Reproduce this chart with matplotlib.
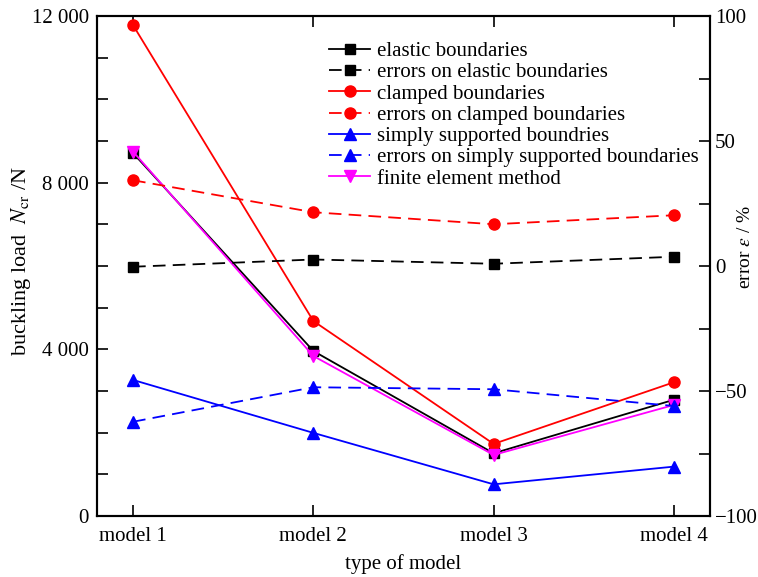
import numpy as np
import matplotlib
matplotlib.use('Agg')
import matplotlib.pyplot as plt
from matplotlib.ticker import MultipleLocator, FixedLocator

plt.rcParams['font.family'] = ['Liberation Serif', 'DejaVu Serif']
plt.rcParams['mathtext.fontset'] = 'stix'
plt.rcParams['font.size'] = 15

# data
models = ['model 1', 'model 2', 'model 3', 'model 4']
elastic = [8710, 3960, 1505, 2790]
clamped = [11780, 4680, 1730, 3210]
simply = [3265, 1995, 760, 1185]
fem = [8745, 3840, 1465, 2665]

err_elastic = [-0.3, 2.6, 0.9, 3.7]
err_clamped = [34.3, 21.5, 16.7, 20.3]
err_simply = [-62.3, -48.5, -49.3, -56.0]

left_ticks = [0, 4000, 8000, 12000]
left_ticklabels = ['0', '4 000', '8 000', '12 000']

x = np.arange(1, len(models) + 1)

fig = plt.figure(figsize=(7.58, 5.77), dpi=100)
ax = fig.add_axes([97/758, 1 - 516/577, (710-97)/758, (516-16)/577])
ax2 = ax.twinx()

lw = 1.3
dash = (0, (7, 4))
ms = 8

l1, = ax.plot(x, elastic, '-', color='black', marker='s', lw=lw, ms=ms-1)
l2, = ax2.plot(x, err_elastic, color='black', ls=dash, marker='s', lw=lw, ms=ms-1)
l3, = ax.plot(x, clamped, '-', color='red', marker='o', lw=lw, ms=ms)
l4, = ax2.plot(x, err_clamped, color='red', ls=dash, marker='o', lw=lw, ms=ms)
l5, = ax.plot(x, simply, '-', color='blue', marker='^', lw=lw, ms=ms)
l6, = ax2.plot(x, err_simply, color='blue', ls=dash, marker='^', lw=lw, ms=ms)
l7, = ax2.plot([], [], '-', color='magenta', marker='v', lw=lw, ms=ms)
ax.plot(x, fem, '-', color='magenta', marker='v', lw=lw, ms=ms, zorder=3)

ax.set_xlim(0.8, 4.2)
ax.set_ylim(0, 12000)
ax2.set_ylim(-100, 100)

ax.set_xticks(x)
ax.set_xticklabels(models)
ax.yaxis.set_major_locator(FixedLocator(left_ticks))
ax.set_yticklabels(left_ticklabels)
ax.yaxis.set_minor_locator(MultipleLocator(1000))
ax2.yaxis.set_major_locator(MultipleLocator(50))
ax2.yaxis.set_minor_locator(MultipleLocator(25))

ax.tick_params(axis='both', which='both', direction='in', length=8, width=1.2, top=True, labelsize=15)
ax.tick_params(axis='x', pad=8)
ax.tick_params(axis='y', pad=6)
ax2.tick_params(axis='y', which='both', direction='in', length=8, width=1.2, labelsize=15)
for a in (ax, ax2):
    for s in a.spines.values():
        s.set_linewidth(1.5)

ax.set_xlabel('type of model', fontsize=15, labelpad=6)
ax.set_ylabel('buckling load  $N_{\\rm cr}$ /N', fontsize=16)
ax.yaxis.set_label_coords(-0.104, 0.51)
ax2.set_ylabel('error $\\varepsilon$ / %', fontsize=14)
ax2.yaxis.set_label_coords(1.044, 0.538)

handles = [l1, l2, l3, l4, l5, l6, l7]
labels = ['elastic boundaries', 'errors on elastic boundaries', 'clamped boundaries',
          'errors on clamped boundaries', 'simply supported boundries',
          'errors on simply supported boundaries', 'finite element method']
ax2.legend(handles, labels, loc='upper right', bbox_to_anchor=(1.005, 0.978), frameon=False,
           fontsize=15, handlelength=2.0, handletextpad=0.3, labelspacing=0.08, borderpad=0.2)

fig.savefig('out.png', dpi=100)
